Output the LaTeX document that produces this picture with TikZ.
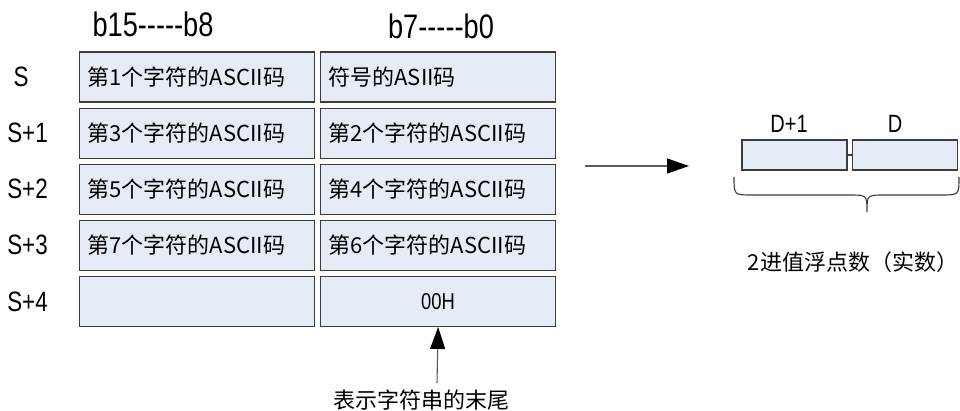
\documentclass[tikz,border=0pt]{standalone}
\usepackage{fontspec}
\usepackage{tikz}
\usetikzlibrary{positioning,arrows.meta}
\setmainfont{Liberation Sans}[FakeStretch=0.8]
\newfontfamily\cjk{Noto Sans CJK SC}
\definecolor{CellFill}{HTML}{E6ECF5}
\definecolor{CellLine}{HTML}{3C3C3C}
\definecolor{ArrGray}{HTML}{5A5A5A}
\newcommand\bitdash{-\kern0pt-\kern0pt-\kern0pt-\kern0pt-}

\begin{document}
\begin{tikzpicture}[
    x=1pt, y=1pt,
    node distance=5pt and 5pt,
    every node/.style={inner sep=0pt, text=black},
    cell/.style={draw=CellLine, line width=1.1pt, fill=CellFill, minimum height=50pt, text width=219pt, inner xsep=8pt, align=left, font=\cjk\fontsize{22}{26}\selectfont},
    dcell/.style={draw=CellLine, line width=1.1pt, fill=CellFill, minimum width=105pt, minimum height=30pt},
    rowlab/.style={font=\fontsize{28}{30}\selectfont},
    head/.style={font=\fontsize{34}{36}\selectfont},
    dlab/.style={font=\fontsize{25}{28}\selectfont},
    cjklab/.style={font=\cjk\fontsize{22}{26}\selectfont},
    arrow/.style={-{Triangle[length=22pt,width=15pt,color=black]}, draw=ArrGray, line width=1.1pt},
    brace/.style={draw=CellLine, line width=1.1pt}
  ]
    \useasboundingbox (0,0) rectangle (960,410);

    \node[head] (hi) at (153,385.5) {b15\bitdash b8};
    \node[head] (lo) at (441,384) {b7\bitdash b0};

    \node[cell] (r0a) at (197,333) {第1个字符的ASCII码};
    \node[cell, right=of r0a] (r0b) {符号的ASII码};
    \node[cell, below=of r0a] (r1a) {第3个字符的ASCII码};
    \node[cell, right=of r1a] (r1b) {第2个字符的ASCII码};
    \node[cell, below=of r1a] (r2a) {第5个字符的ASCII码};
    \node[cell, right=of r2a] (r2b) {第4个字符的ASCII码};
    \node[cell, below=of r2a] (r3a) {第7个字符的ASCII码};
    \node[cell, right=of r3a] (r3b) {第6个字符的ASCII码};
    \node[cell, below=of r3a] (r4a) {};
    \node[cell, right=of r4a, align=center, font=\fontsize{23}{26}\selectfont] (r4b) {00H};

    \node[rowlab] (s0) at (21,0 |- r0a.center) {S};
    \node[rowlab] (s1) at (27.5,0 |- r1a.center) {S+1};
    \node[rowlab] (s2) at (27.5,0 |- r2a.center) {S+2};
    \node[rowlab] (s3) at (27.5,0 |- r3a.center) {S+3};
    \node[rowlab] (s4) at (27.5,0 |- r4a.center) {S+4};

    \node[dcell] (d1) at (794.5,255) {};
    \node[dcell, right=4pt of d1] (d0) {};
    \node[dlab] (dl1) at (789,286) {D+1};
    \node[dlab] (dl0) at (895,286) {D};
    \node[cjklab] (real) at (853,148) {2进值浮点数（实数）};
    \node[cjklab] (tail) at (421,10) {表示字符串的末尾};

    \coordinate (arrS) at (585,244);
    \coordinate (arrE) at (689,244);
    \coordinate (endtail) at (437,27);

    \draw[arrow] (arrS) -- (arrE);
    \draw[arrow] (endtail) -- (r4b.south);
    \draw[brace] (d1.east) -- (d0.west);
    \draw[brace] (734,233) .. controls (734,215) .. (752,215) -- (849,215)
      .. controls (867,215) .. (867,198) .. controls (867,215) .. (885,215)
      -- (941,215) .. controls (959,215) .. (959,233);
  \end{tikzpicture}
\end{document}
